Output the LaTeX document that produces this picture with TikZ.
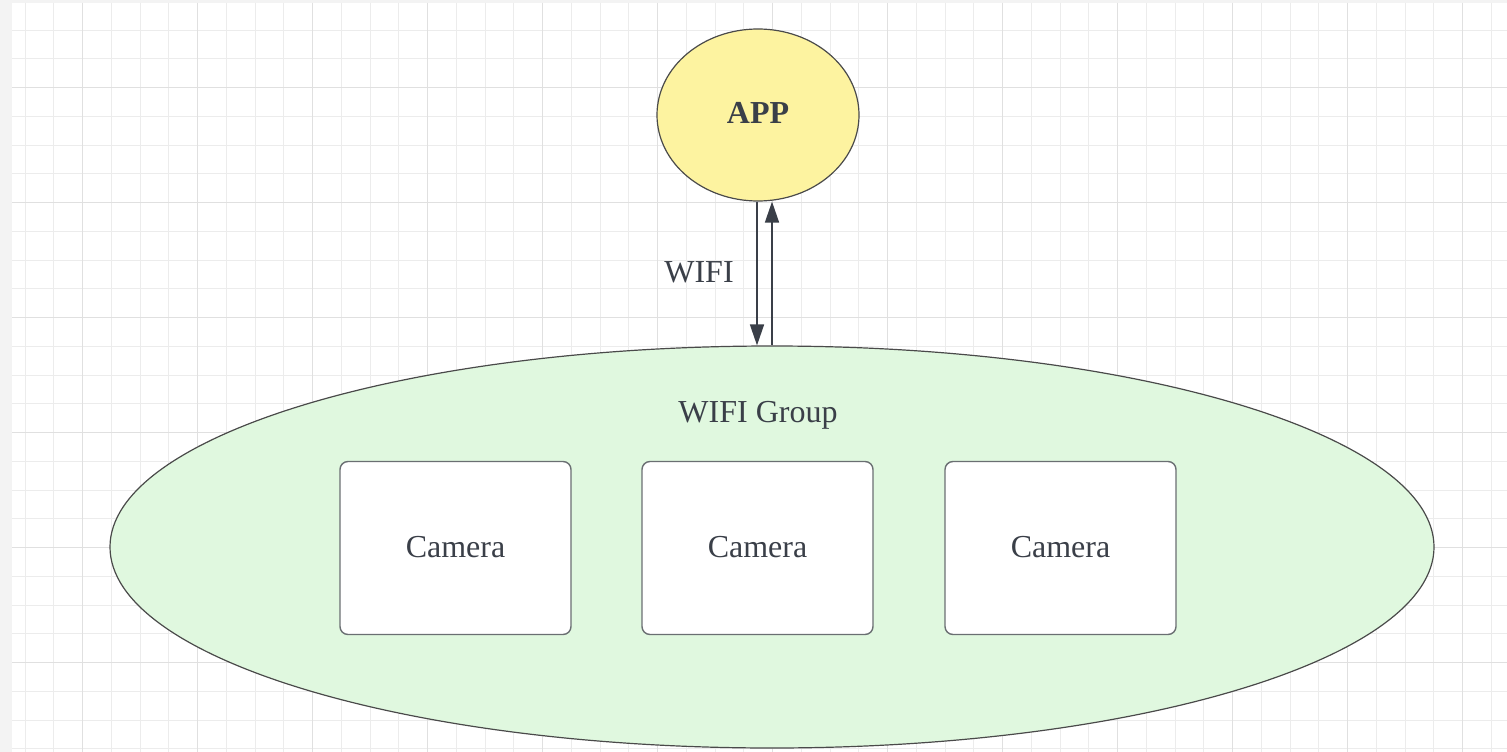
\documentclass[tikz,border=0pt]{standalone}
\usepackage{fontspec}
\setmainfont{Liberation Serif}
\usetikzlibrary{shapes.geometric,arrows.meta}
\definecolor{strip}{HTML}{F3F3F3}
\definecolor{gridminor}{HTML}{ECECEC}
\definecolor{gridmajor}{HTML}{E0E0E0}
\definecolor{appfill}{HTML}{FDF3A0}
\definecolor{grpfill}{HTML}{E0F8DF}
\definecolor{edge}{HTML}{4A4A4A}
\definecolor{txt}{HTML}{3A3F48}
\definecolor{boxedge}{HTML}{6A6F72}
\tikzset{
  lbl/.style={text=txt,font=\fontsize{32}{38}\selectfont},
  appnode/.style={ellipse,draw=edge,line width=1.2pt,fill=appfill,inner sep=0pt,minimum width=202pt,minimum height=172pt,text=txt,font=\fontsize{32}{38}\selectfont\bfseries},
  grpnode/.style={ellipse,draw=edge,line width=1.2pt,fill=grpfill,inner sep=0pt,minimum width=1324pt,minimum height=402pt},
  cambox/.style={rectangle,rounded corners=8pt,draw=boxedge,line width=1.4pt,fill=white,minimum width=231pt,minimum height=173pt,inner sep=0pt,lbl},
  arr/.style={draw=txt,line width=1.6pt,-{Triangle[length=21pt,width=14pt]}},
  gline/.style={gridminor,line width=1pt},
  gmajor/.style={gridmajor,line width=1pt},
}
\begin{document}
\begin{tikzpicture}[x=1pt,y=-1pt]
\useasboundingbox (0,0) rectangle (1507,752);
\fill[strip] (0,0) rectangle (1507,752);
\fill[white] (12,3) rectangle (1507,752);
\begin{scope}
\clip (12,3) rectangle (1507,752);
\foreach \k in {-2,...,49} {
  \pgfmathsetmacro\xx{round(82+28.75*\k)+0.5}
  \draw[gline] (\xx,3) -- (\xx,752);
}
\foreach \k in {-2,...,23} {
  \pgfmathsetmacro\yy{round(87+28.75*\k)+0.5}
  \draw[gline] (12,\yy) -- (1507,\yy);
}
\foreach \k in {0,...,12} {
  \pgfmathsetmacro\xx{82+115*\k+0.5}
  \draw[gmajor] (\xx,3) -- (\xx,752);
}
\foreach \k in {0,...,5} {
  \pgfmathsetmacro\yy{87+115*\k+0.5}
  \draw[gmajor] (12,\yy) -- (1507,\yy);
}
\end{scope}

\node[appnode] (app) at (758,115) {\raisebox{5pt}{APP}};
\node[grpnode] (grp) at (772,547) {};
\node[lbl] (grplbl) at (758,415) {WIFI Group};
\node[cambox] (cam1) at (455.5,548) {\raisebox{2pt}{Camera}};
\node[cambox] (cam2) at (757.5,548) {\raisebox{2pt}{Camera}};
\node[cambox] (cam3) at (1060.5,548) {\raisebox{2pt}{Camera}};

\draw[arr] ([xshift=-1pt]app.south) -- ([xshift=-1pt]app.south |- grp.north);
\draw[arr] (grp.north) -- (grp.north |- app.south);
\node[lbl] (wifi) at (699,272) {WIFI};
\end{tikzpicture}
\end{document}
